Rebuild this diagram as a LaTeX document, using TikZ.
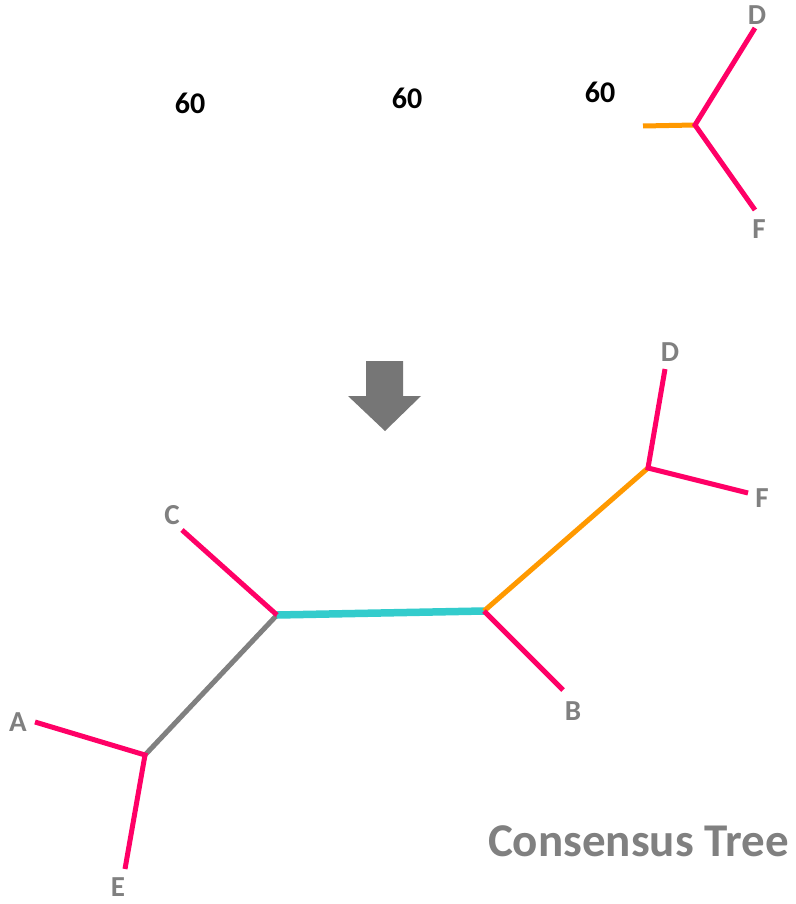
\documentclass[tikz,border=0pt]{standalone}
\usepackage{fontspec}
\setmainfont{Carlito}
\definecolor{leafpink}{HTML}{FF0066}
\definecolor{branchorange}{HTML}{FF9900}
\definecolor{branchcyan}{HTML}{33CCCC}
\definecolor{labelgray}{HTML}{808080}
\definecolor{arrowgray}{HTML}{767676}
\tikzset{
  leaf/.style={draw=leafpink, line width=5pt},
  orangebranch/.style={draw=branchorange, line width=5pt},
  cyanbranch/.style={draw=branchcyan, line width=7.5pt},
  graybranch/.style={draw=labelgray, line width=5pt},
  taxon/.style={text=labelgray, font=\bfseries\fontsize{29}{29}\selectfont, inner sep=0pt},
  support/.style={text=black, font=\bfseries\fontsize{30}{30}\selectfont, inner sep=0pt},
  vertex/.style={coordinate}
}
\begin{document}
\begin{tikzpicture}[x=1pt,y=-1pt]
\useasboundingbox[fill=white] (0,0) rectangle (795,904);

% support values of the partial trees
\node[support] (s1) at (190,103) {60};
\node[support] (s2) at (407,98) {60};
\node[support] (s3) at (600,92) {60};

% partial tree with D and F
\coordinate (tstub) at (643,126);
\coordinate (tj) at (695,125);
\coordinate (tD) at (755,28);
\coordinate (tF) at (755,210);
\draw[orangebranch] (tstub) -- (tj);
\draw[leaf] (tD) -- (tj) -- (tF);
\node[taxon] (tlD) at (757,15) {D};
\node[taxon] (tlF) at (759,229) {F};

% down arrow
\fill[arrowgray] (366,361) -- (403,361) -- (403,396) -- (421,396) -- (385,431)
  -- (348,396) -- (366,396) -- cycle;

% consensus tree
\coordinate (n1) at (145,755);
\coordinate (n2) at (277,615);
\coordinate (n3) at (484,611);
\coordinate (n4) at (648,468);
\coordinate (eA) at (35,722);
\coordinate (eE) at (125,869);
\coordinate (eC) at (182,530);
\coordinate (eB) at (563,690);
\coordinate (eD) at (665,369);
\coordinate (eF) at (748,493);

\draw[graybranch] (n1) -- (n2);
\draw[cyanbranch] (n2) -- (n3);
\draw[orangebranch] (n3) -- (n4);
\draw[leaf] (eA) -- (n1) -- (eE);
\draw[leaf] (eC) -- (n2);
\draw[leaf] (n3) -- (eB);
\draw[leaf] (eD) -- (n4) -- (eF);

\node[taxon] (lA) at (18,722) {A};
\node[taxon] (lE) at (118,887) {E};
\node[taxon] (lC) at (172,515) {C};
\node[taxon] (lB) at (573,711) {B};
\node[taxon] (lD) at (670,352) {D};
\node[taxon] (lF) at (762,498) {F};

\node[text=labelgray, font=\bfseries\fontsize{47}{47}\selectfont, inner sep=0pt,
  anchor=east] (title) at (789,841) {Consensus Tree};
\end{tikzpicture}
\end{document}
